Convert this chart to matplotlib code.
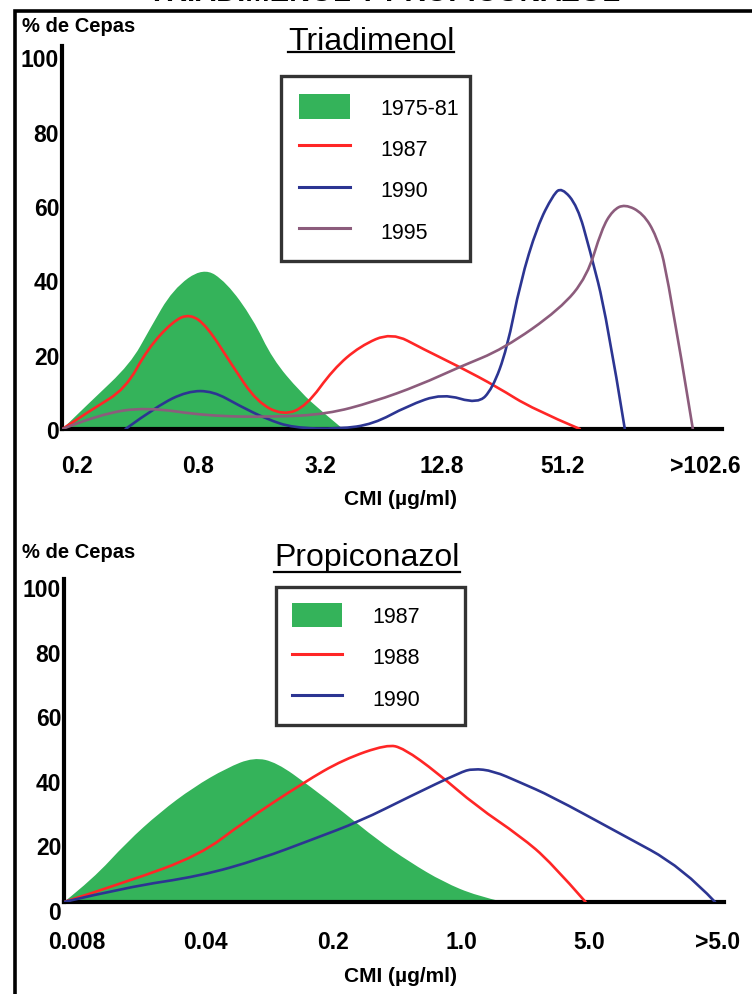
import matplotlib
matplotlib.use("Agg")
import matplotlib.pyplot as plt
from matplotlib.path import Path
from matplotlib.patches import PathPatch, Patch
from matplotlib.lines import Line2D
from matplotlib.transforms import ScaledTranslation

plt.rcParams["font.family"] = ["Liberation Sans", "DejaVu Sans"]

# ---- datos: Triadimenol (x = indice de clase de CMI) ----
tri_ticks = ["0.2", "0.8", "3.2", "12.8", "51.2", ">102.6"]
tri_tick_pos = [0, 1, 2, 3, 4, 5.17]

tri_7581_x = [-0.12, 0.11, 0.44, 0.60, 0.79, 1.04, 1.23, 1.45, 1.61, 1.84, 2.02, 2.19]
tri_7581_y = [0, 7.3, 17.5, 26.9, 37.6, 43.5, 39.5, 29.6, 18.8, 9.9, 4.6, 0]

tri_87_x = [-0.12, 0.13, 0.40, 0.58, 0.79, 0.93, 1.07, 1.28, 1.48, 1.70, 1.89, 2.11, 2.33,
            2.59, 2.85, 3.15, 3.46, 3.75, 4.14]
tri_87_y = [0, 5.4, 10.8, 21.5, 29.0, 31.0, 27.7, 17.0, 7.3, 3.6, 6.2, 16.1, 22.3,
            26.0, 21.5, 16.7, 11.3, 5.4, 0]

tri_90_x = [0.40, 0.66, 0.91, 1.12, 1.34, 1.56, 1.78, 2.16, 2.44, 2.72, 3.01, 3.30, 3.42,
            3.54, 3.65, 3.79, 3.92, 3.99, 4.12, 4.22, 4.36, 4.51]
tri_90_y = [0, 6.2, 10.2, 10.2, 6.2, 2.7, 0.3, 0, 1.3, 6.2, 9.6, 6.7, 10.8,
            21.5, 39.5, 54.6, 63.0, 65.0, 60.0, 48.4, 30.4, 0]

tri_95_x = [-0.12, 0.19, 0.57, 1.07, 1.61, 2.06, 2.44, 2.82, 3.15, 3.51, 3.98, 4.20,
            4.32, 4.41, 4.51, 4.66, 4.77, 4.86, 5.07]
tri_95_y = [0, 4.0, 5.9, 3.5, 3.2, 4.0, 7.3, 11.8, 16.7, 21.5, 32.3, 41.0,
            53.8, 58.8, 60.5, 58.0, 52.0, 42.2, 0]

# ---- datos: Propiconazol ----
pro_ticks = ["0.008", "0.04", "0.2", "1.0", "5.0", ">5.0"]
pro_tick_pos = [0, 1, 2, 3, 4, 5]

pro_87_x = [-0.10, 0.125, 0.39, 0.65, 0.91, 1.17, 1.38, 1.56, 1.82, 2.08, 2.34, 2.60,
            2.86, 3.12, 3.33]
pro_87_y = [0, 7.1, 18.5, 27.8, 35.5, 41.5, 44.8, 43.2, 35.8, 27.8, 19.4, 12.3,
            6.2, 1.9, 0]

pro_88_x = [-0.10, 0.39, 0.96, 1.30, 1.77, 2.08, 2.42, 2.55, 2.81, 3.12, 3.46, 3.70, 3.97]
pro_88_y = [0, 6.2, 14.5, 24.7, 37.0, 44.1, 48.8, 47.6, 40.1, 29.6, 20.4, 12.3, 0]

pro_90_x = [-0.10, 0.39, 0.96, 1.43, 1.84, 2.21, 2.60, 2.99, 3.09, 3.25, 3.46, 3.70,
            4.22, 4.73, 4.98]
pro_90_y = [0, 4.6, 8.0, 13.3, 19.4, 25.0, 32.7, 40.1, 41.3, 40.6, 37.0, 32.8,
            21.6, 10.6, 0]

GREEN = "#34b35a"
RED = "#ff2626"
BLUE = "#2c3592"
MAUVE = "#8c5c7c"

W, H = 752, 995


def px_rect(left, top, right, bottom):
    return [left / W, 1 - bottom / H, (right - left) / W, (bottom - top) / H]


def smooth_path(xs, ys, close=False):
    # curva cuadratica por los puntos medios (los puntos leidos son de control)
    verts = [(xs[0], ys[0])]
    codes = [Path.MOVETO]
    n = len(xs)
    for k in range(1, n - 1):
        if k == n - 2:
            end = (xs[k + 1], ys[k + 1])
        else:
            end = ((xs[k] + xs[k + 1]) / 2, (ys[k] + ys[k + 1]) / 2)
        verts += [(xs[k], ys[k]), end]
        codes += [Path.CURVE3, Path.CURVE3]
    if close:
        verts.append((xs[0], ys[0]))
        codes.append(Path.CLOSEPOLY)
    return Path(verts, codes)


def draw_line(ax, xs, ys, color, z=3):
    ax.add_patch(PathPatch(smooth_path(xs, ys), facecolor="none", edgecolor=color,
                           lw=1.9, zorder=z, capstyle="round", joinstyle="round"))


def draw_fill(ax, xs, ys, color):
    ax.add_patch(PathPatch(smooth_path(xs, ys, close=True), facecolor=color,
                           edgecolor="none", zorder=1))


def style_axes(ax):
    for s in ["top", "right"]:
        ax.spines[s].set_visible(False)
    for s in ["left", "bottom"]:
        ax.spines[s].set_linewidth(3)
        ax.spines[s].set_color("black")
    ax.set_yticks([0, 20, 40, 60, 80, 100])
    ax.tick_params(length=0, labelsize=16.5)
    for lab in ax.get_xticklabels() + ax.get_yticklabels():
        lab.set_fontweight("bold")


def make_legend(ax, handles, labels, box_px, bp=0.72):
    left, top, right, bottom = box_px
    leg = ax.legend(handles, labels, loc="upper left", mode="expand",
                    bbox_to_anchor=(left / W, 1 - bottom / H, (right - left) / W,
                                    (bottom - top) / H),
                    bbox_transform=fig.transFigure,
                    borderaxespad=0, fancybox=False, frameon=True, fontsize=15.5,
                    handlelength=2.35, handleheight=1.4, labelspacing=0.76,
                    handletextpad=1.4, borderpad=bp)
    leg.get_frame().set_edgecolor("black")
    leg.get_frame().set_linewidth(2.4)
    return leg


fig = plt.figure(figsize=(7.52, 9.95), dpi=100)

# ---------- Triadimenol ----------
ax1 = fig.add_axes(px_rect(62, 47, 722, 430))
ax1.set_xlim(-0.123, 5.31)
ax1.set_ylim(0, 103)
draw_fill(ax1, tri_7581_x, tri_7581_y, GREEN)
draw_line(ax1, tri_87_x, tri_87_y, RED)
draw_line(ax1, tri_90_x, tri_90_y, BLUE)
draw_line(ax1, tri_95_x, tri_95_y, MAUVE)
ax1.set_xticks(tri_tick_pos, tri_ticks)
style_axes(ax1)
ax1.tick_params(axis="x", pad=18)
ax1.tick_params(axis="y", pad=2)

h1 = [Patch(facecolor=GREEN, edgecolor="none"),
      Line2D([], [], color=RED, lw=2.2),
      Line2D([], [], color=BLUE, lw=2.2),
      Line2D([], [], color=MAUVE, lw=2.2)]
make_legend(ax1, h1, ["1975-81", "1987", "1990", "1995"], (281, 77, 470, 262), bp=0.85)

# ---------- Propiconazol ----------
ax2 = fig.add_axes(px_rect(64, 580, 724, 903))
ax2.set_xlim(-0.10, 5.05)
ax2.set_ylim(0, 100)
draw_fill(ax2, pro_87_x, pro_87_y, GREEN)
draw_line(ax2, pro_88_x, pro_88_y, RED)
draw_line(ax2, pro_90_x, pro_90_y, BLUE)
ax2.set_xticks(pro_tick_pos, pro_ticks)
style_axes(ax2)
ax2.tick_params(axis="x", pad=20)
ax2.tick_params(axis="y", pad=2)
shift = ScaledTranslation(0, -8 / 100, fig.dpi_scale_trans)
for lab in ax2.get_yticklabels():
    lab.set_transform(lab.get_transform() + shift)

h2 = [Patch(facecolor=GREEN, edgecolor="none"),
      Line2D([], [], color=RED, lw=2.2),
      Line2D([], [], color=BLUE, lw=2.2)]
make_legend(ax2, h2, ["1987", "1988", "1990"], (276, 588, 465, 725), bp=0.72)

# ---------- textos ----------
fig.text(384 / W, 1 - 1 / H, "TRIADIMENOL Y PROPICONAZOL", ha="center", va="baseline",
         fontsize=21, fontweight="bold")
fig.text(22 / W, 1 - 26 / H, "% de Cepas", ha="left", va="center", fontsize=14.5,
         fontweight="bold")
fig.text(22 / W, 1 - 553 / H, "% de Cepas", ha="left", va="center", fontsize=14.5,
         fontweight="bold")
t1 = fig.text(371 / W, 1 - 50 / H, "Triadimenol", ha="center", va="baseline", fontsize=23)
t2 = fig.text(367 / W, 1 - 566 / H, "Propiconazol", ha="center", va="baseline", fontsize=23)
fig.text(401 / W, 1 - 500 / H, "CMI (µg/ml)", ha="center", va="center", fontsize=15,
         fontweight="bold")
fig.text(401 / W, 1 - 977 / H, "CMI (µg/ml)", ha="center", va="center", fontsize=15,
         fontweight="bold")

# subrayado de los titulos
fig.canvas.draw()
for t, y_px in [(t1, 53), (t2, 573)]:
    bb = t.get_window_extent()
    fig.add_artist(Line2D([bb.x0 / W, bb.x1 / W], [1 - y_px / H, 1 - y_px / H],
                          transform=fig.transFigure, color="black", lw=1.6))

# marco
fig.add_artist(Line2D([14.5 / W, 14.5 / W, 1.0], [0, 1 - 12 / H, 1 - 12 / H],
                      transform=fig.transFigure, color="black", lw=2.6,
                      solid_joinstyle="miter"))

fig.savefig("out.png", dpi=100)
